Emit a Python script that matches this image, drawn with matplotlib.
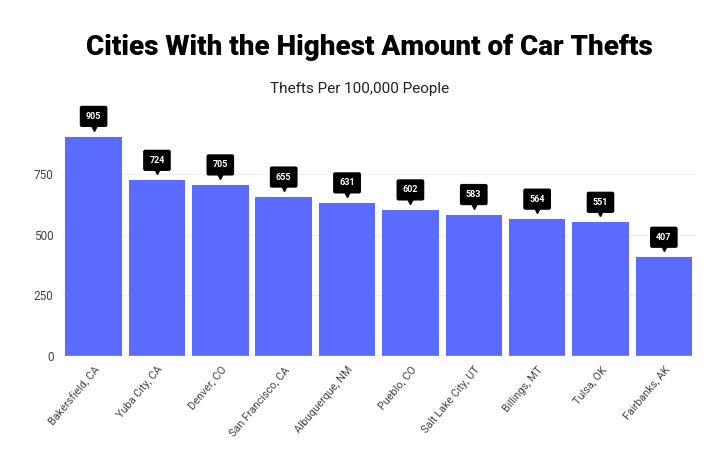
import numpy as np
from matplotlib import pyplot as plt
import matplotlib.transforms as mtrans

cities = ["Bakersfield, CA", "Yuba City, CA", "Denver, CO", "San Francisco, CA",
          "Albuquerque, NM", "Pueblo, CO", "Salt Lake City, UT", "Billings, MT",
          "Tulsa, OK", "Fairbanks, AK"]
thefts = [905, 724, 705, 655, 631, 602, 583, 564, 551, 407]
yticks = [0, 250, 500, 750]

plt.rcParams["font.family"] = ["Roboto", "DejaVu Sans"]

fig = plt.figure(figsize=(7.2, 4.68), dpi=100)
ax = fig.add_axes([0.086, 0.239, 0.88, 0.56])

x = np.arange(len(cities))
ax.bar(x, thefts, width=0.89, color="#5b6bff", zorder=2)

# 値ラベル(黒い吹き出し)
tri_shift = mtrans.ScaledTranslation(0, 6.5 / 72, fig.dpi_scale_trans)
for xi, v in zip(x, thefts):
    ax.annotate(str(v), (xi, v), xytext=(0, 14.5), textcoords="offset points",
                ha="center", va="center", fontsize=6.5, fontweight="bold", color="white",
                bbox=dict(boxstyle="round,pad=0.6,rounding_size=0.15", fc="black", ec="black"),
                annotation_clip=False, zorder=4)
    ax.plot(xi, v, marker="v", markersize=4, color="black", linestyle="none",
            clip_on=False, zorder=4, transform=ax.transData + tri_shift)

ax.set_xlim(-0.5, len(cities) - 0.5)
ax.set_ylim(0, 1080)
ax.set_yticks(yticks)
ax.set_yticklabels([str(t) for t in yticks], fontsize=8.5, color="#444444")
ax.set_xticks(x)
ax.set_xticklabels(cities, rotation=50, ha="right", rotation_mode="anchor",
                   fontsize=7.8, color="#444444")
ax.tick_params(length=0, pad=6)
ax.yaxis.grid(True, color="#eeeeee", linewidth=0.8, zorder=0)
for s in ax.spines.values():
    s.set_visible(False)
ax.axhline(0, color="#c8ccff", linewidth=1, zorder=3)

fig.text(0.513, 0.898, "Cities With the Highest Amount of Car Thefts", ha="center", va="center",
         fontsize=20, fontweight="heavy", color="black")
fig.text(0.5, 0.81, "Thefts Per 100,000 People", ha="center", va="center",
         fontsize=11, color="#222222")

fig.savefig("out.png", dpi=100)
